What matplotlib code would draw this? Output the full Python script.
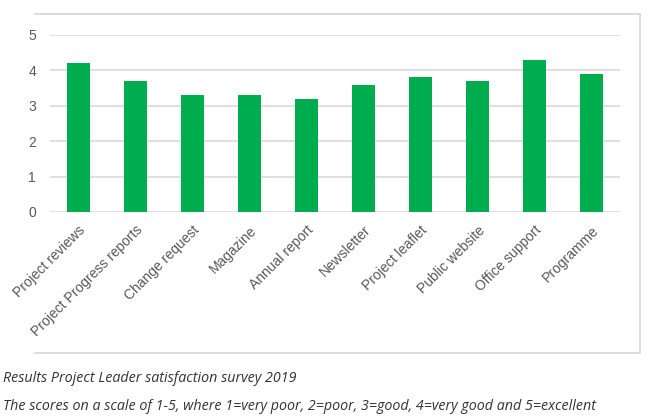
import matplotlib.pyplot as plt
from matplotlib.lines import Line2D

# survey items and their average scores
categories = ['Project reviews', 'Project Progress reports', 'Change request',
              'Magazine', 'Annual report', 'Newsletter', 'Project leaflet',
              'Public website', 'Office support', 'Programme']
scores = [4.2, 3.7, 3.3, 3.3, 3.2, 3.6, 3.8, 3.7, 4.3, 3.9]
yticks = [0, 1, 2, 3, 4, 5]

caption1 = 'Results Project Leader satisfaction survey 2019'
caption2 = ('The scores on a scale of 1-5, where 1=very poor, 2=poor, 3=good, '
            '4=very good and 5=excellent')

plt.rcParams['font.family'] = ['Liberation Sans', 'DejaVu Sans']

fig = plt.figure(figsize=(6.5, 4.17), dpi=100)

# light grey frame round the chart area (top, right and bottom only)
fx0, fx1 = 35 / 650, 640 / 650
fy0, fy1 = 1 - 353 / 417, 1 - 14 / 417
frame = Line2D([fx0, fx1, fx1, fx0], [fy1, fy1, fy0, fy0],
               transform=fig.transFigure, color='#d9d9d9', linewidth=1.3)
fig.lines.append(frame)

ax = fig.add_axes([50 / 650, 1 - 212 / 417, 570 / 650, 177 / 417])
x = range(len(categories))
ax.bar(x, scores, width=0.4, color='#00ad4e', zorder=3)

ax.set_ylim(0, 5)
ax.set_xlim(-0.5, len(categories) - 0.5)
ax.set_yticks(yticks)
ax.set_yticklabels([str(t) for t in yticks], fontsize=10, color='#595959')
ax.set_xticks(list(x))
ax.set_xticklabels(categories, rotation=45, ha='right', rotation_mode='anchor',
                   fontsize=10, color='#595959')
ax.tick_params(axis='x', length=0, pad=8)
ax.tick_params(axis='y', length=0, pad=10)
ax.grid(axis='y', color='#d9d9d9', linewidth=1.2, zorder=0)
for s in ax.spines.values():
    s.set_visible(False)

fig.text(3 / 650, 1 - 378 / 417, caption1, fontsize=10.25, style='italic',
         color='#333333', family='Open Sans', va='center')
fig.text(3 / 650, 1 - 406 / 417, caption2, fontsize=10.25, style='italic',
         color='#333333', family='Open Sans', va='center')

fig.savefig('out.png', dpi=100)
